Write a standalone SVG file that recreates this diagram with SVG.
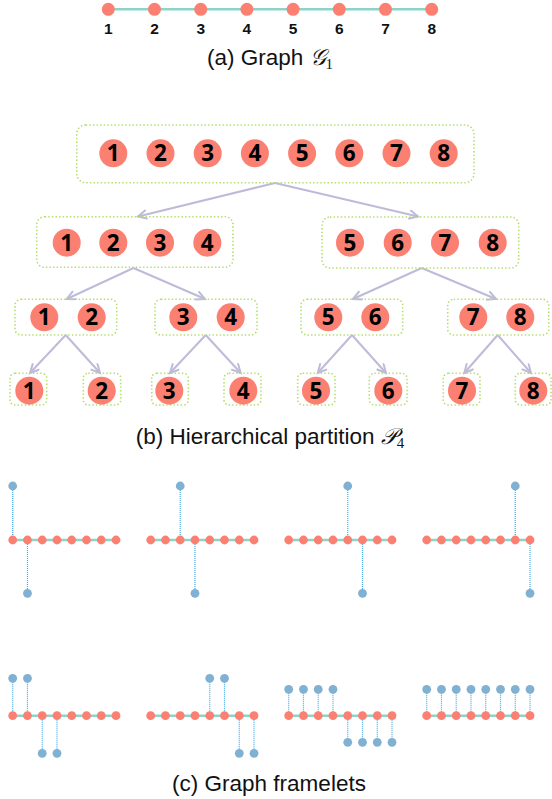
<svg xmlns="http://www.w3.org/2000/svg" width="552" height="799" viewBox="0 0 552 799">
  <style>
    .edge { stroke: #8dd3c7; stroke-width: 2.5; fill: none; }
    .v { fill: #fb8072; }
    .w { fill: #80b1d3; }
    .lbl { font-family: "Liberation Sans", Arial, sans-serif; font-weight: bold; font-size: 15.5px; fill: #111; text-anchor: middle; }
    .num { font-family: "Open Sans", "Noto Sans", sans-serif; font-weight: bold; font-size: 22.5px; fill: #000; text-anchor: middle; }
    .box { fill: none; stroke: #b3de69; stroke-width: 1.6; stroke-dasharray: 1.4 2.2; }
    .arr { stroke: #bebada; stroke-width: 2; fill: none; }
    .cap { font-family: "Liberation Sans", Arial, sans-serif; font-size: 22.5px; fill: #111; text-anchor: middle; }
    .sub { font-family: "Liberation Serif", "Times New Roman", serif; font-size: 15px; }
    .link { stroke: #4aa8e0; stroke-width: 1.2; stroke-dasharray: 1 1; fill: none; }
  </style>
  <defs>
    <marker id="head" markerUnits="userSpaceOnUse" markerWidth="14" markerHeight="14" refX="10" refY="5" orient="auto">
      <path d="M1,0.5 L10,5 L1,9.5" fill="none" stroke="#bebada" stroke-width="2" stroke-linejoin="miter"/>
    </marker>
    <g id="chain">
      <line class="edge" x1="0" y1="0" x2="103.3" y2="0"/>
      <circle class="v" cx="0" cy="0" r="4.4"/>
      <circle class="v" cx="14.76" cy="0" r="4.4"/>
      <circle class="v" cx="29.52" cy="0" r="4.4"/>
      <circle class="v" cx="44.28" cy="0" r="4.4"/>
      <circle class="v" cx="59.04" cy="0" r="4.4"/>
      <circle class="v" cx="73.8" cy="0" r="4.4"/>
      <circle class="v" cx="88.56" cy="0" r="4.4"/>
      <circle class="v" cx="103.32" cy="0" r="4.4"/>
    </g>
  </defs>

  <!-- (a) path graph on 8 vertices -->
  <g id="graph-a">
    <line class="edge" x1="108.3" y1="9.3" x2="431.7" y2="9.3"/>
    <circle class="v" cx="108.3" cy="9.3" r="6.5"/>
    <circle class="v" cx="154.5" cy="9.3" r="6.5"/>
    <circle class="v" cx="200.7" cy="9.3" r="6.5"/>
    <circle class="v" cx="246.9" cy="9.3" r="6.5"/>
    <circle class="v" cx="293.1" cy="9.3" r="6.5"/>
    <circle class="v" cx="339.3" cy="9.3" r="6.5"/>
    <circle class="v" cx="385.5" cy="9.3" r="6.5"/>
    <circle class="v" cx="431.7" cy="9.3" r="6.5"/>
    <text class="lbl" x="108.3" y="33.5">1</text>
    <text class="lbl" x="154.5" y="33.5">2</text>
    <text class="lbl" x="200.7" y="33.5">3</text>
    <text class="lbl" x="246.9" y="33.5">4</text>
    <text class="lbl" x="293.1" y="33.5">5</text>
    <text class="lbl" x="339.3" y="33.5">6</text>
    <text class="lbl" x="385.5" y="33.5">7</text>
    <text class="lbl" x="431.7" y="33.5">8</text>
  </g>
  <text class="cap" x="270" y="65">(a) Graph <tspan font-family="DejaVu Serif, serif" font-style="italic">𝒢</tspan><tspan class="sub" dy="4">1</tspan></text>

  <!-- (b) hierarchical partition tree -->
  <g id="connectors">
    <line class="arr" x1="275" y1="183" x2="138" y2="216.5" marker-end="url(#head)"/>
    <line class="arr" x1="275" y1="183" x2="418" y2="216.5" marker-end="url(#head)"/>
    <line class="arr" x1="133.5" y1="268" x2="66.7" y2="299" marker-end="url(#head)"/>
    <line class="arr" x1="133.5" y1="268" x2="205" y2="299" marker-end="url(#head)"/>
    <line class="arr" x1="421.7" y1="268" x2="353" y2="299" marker-end="url(#head)"/>
    <line class="arr" x1="421.7" y1="268" x2="496" y2="299" marker-end="url(#head)"/>
    <line class="arr" x1="65.7" y1="335" x2="30" y2="373" marker-end="url(#head)"/>
    <line class="arr" x1="65.7" y1="335" x2="100" y2="373" marker-end="url(#head)"/>
    <line class="arr" x1="205.7" y1="335" x2="170" y2="373" marker-end="url(#head)"/>
    <line class="arr" x1="205.7" y1="335" x2="240.7" y2="373" marker-end="url(#head)"/>
    <line class="arr" x1="352" y1="335" x2="317.7" y2="373" marker-end="url(#head)"/>
    <line class="arr" x1="352" y1="335" x2="386" y2="373" marker-end="url(#head)"/>
    <line class="arr" x1="497.7" y1="335" x2="464.3" y2="373" marker-end="url(#head)"/>
    <line class="arr" x1="497.7" y1="335" x2="531" y2="373" marker-end="url(#head)"/>
  </g>

  <g id="part-1-8">
    <rect class="box" x="76.7" y="125" width="397.3" height="57.7" rx="9"/>
    <circle class="v" cx="113.3" cy="153.3" r="14"/>
    <circle class="v" cx="160.5" cy="153.3" r="14"/>
    <circle class="v" cx="207.7" cy="153.3" r="14"/>
    <circle class="v" cx="254.9" cy="153.3" r="14"/>
    <circle class="v" cx="302.1" cy="153.3" r="14"/>
    <circle class="v" cx="349.3" cy="153.3" r="14"/>
    <circle class="v" cx="396.5" cy="153.3" r="14"/>
    <circle class="v" cx="443.7" cy="153.3" r="14"/>
    <text class="num" x="113.3" y="161.3">1</text>
    <text class="num" x="160.5" y="161.3">2</text>
    <text class="num" x="207.7" y="161.3">3</text>
    <text class="num" x="254.9" y="161.3">4</text>
    <text class="num" x="302.1" y="161.3">5</text>
    <text class="num" x="349.3" y="161.3">6</text>
    <text class="num" x="396.5" y="161.3">7</text>
    <text class="num" x="443.7" y="161.3">8</text>
  </g>

  <g id="part-1-4">
    <rect class="box" x="36.7" y="216.7" width="196.3" height="50.6" rx="8"/>
    <circle class="v" cx="66.7" cy="242.7" r="14"/>
    <circle class="v" cx="113.3" cy="242.7" r="14"/>
    <circle class="v" cx="160" cy="242.7" r="14"/>
    <circle class="v" cx="207.3" cy="242.7" r="14"/>
    <text class="num" x="66.7" y="250.7">1</text>
    <text class="num" x="113.3" y="250.7">2</text>
    <text class="num" x="160" y="250.7">3</text>
    <text class="num" x="207.3" y="250.7">4</text>
  </g>

  <g id="part-5-8">
    <rect class="box" x="322" y="217" width="196.7" height="51" rx="8"/>
    <circle class="v" cx="350" cy="242.7" r="14"/>
    <circle class="v" cx="397.7" cy="242.7" r="14"/>
    <circle class="v" cx="445" cy="242.7" r="14"/>
    <circle class="v" cx="492.7" cy="242.7" r="14"/>
    <text class="num" x="350" y="250.7">5</text>
    <text class="num" x="397.7" y="250.7">6</text>
    <text class="num" x="445" y="250.7">7</text>
    <text class="num" x="492.7" y="250.7">8</text>
  </g>

  <g id="part-1-2">
    <rect class="box" x="15" y="299.3" width="101.7" height="35.7" rx="6"/>
    <circle class="v" cx="44.3" cy="317.3" r="14"/>
    <circle class="v" cx="91.7" cy="317.3" r="14"/>
    <text class="num" x="44.3" y="325.3">1</text>
    <text class="num" x="91.7" y="325.3">2</text>
  </g>
  <g id="part-3-4">
    <rect class="box" x="155" y="299.3" width="102" height="35.7" rx="6"/>
    <circle class="v" cx="183.3" cy="317.3" r="14"/>
    <circle class="v" cx="230.7" cy="317.3" r="14"/>
    <text class="num" x="183.3" y="325.3">3</text>
    <text class="num" x="230.7" y="325.3">4</text>
  </g>
  <g id="part-5-6">
    <rect class="box" x="301" y="299.3" width="101.7" height="35.7" rx="6"/>
    <circle class="v" cx="328.3" cy="317.3" r="14"/>
    <circle class="v" cx="375.3" cy="317.3" r="14"/>
    <text class="num" x="328.3" y="325.3">5</text>
    <text class="num" x="375.3" y="325.3">6</text>
  </g>
  <g id="part-7-8">
    <rect class="box" x="447.7" y="299.3" width="101" height="35.7" rx="6"/>
    <circle class="v" cx="473.3" cy="317.3" r="14"/>
    <circle class="v" cx="520.3" cy="317.3" r="14"/>
    <text class="num" x="473.3" y="325.3">7</text>
    <text class="num" x="520.3" y="325.3">8</text>
  </g>

  <g id="leaf-1"><rect class="box" x="10" y="373.3" width="36.7" height="31.7" rx="5"/><circle class="v" cx="29.3" cy="390.7" r="14"/><text class="num" x="29.3" y="398.7">1</text></g>
  <g id="leaf-2"><rect class="box" x="83.3" y="373.3" width="37.4" height="31.7" rx="5"/><circle class="v" cx="101.7" cy="390.7" r="14"/><text class="num" x="101.7" y="398.7">2</text></g>
  <g id="leaf-3"><rect class="box" x="151.7" y="373.3" width="36.6" height="31.7" rx="5"/><circle class="v" cx="169.3" cy="390.7" r="14"/><text class="num" x="169.3" y="398.7">3</text></g>
  <g id="leaf-4"><rect class="box" x="224" y="373.3" width="37" height="31.7" rx="5"/><circle class="v" cx="243.3" cy="390.7" r="14"/><text class="num" x="243.3" y="398.7">4</text></g>
  <g id="leaf-5"><rect class="box" x="297.7" y="373.3" width="37.3" height="31.7" rx="5"/><circle class="v" cx="316" cy="390.7" r="14"/><text class="num" x="316" y="398.7">5</text></g>
  <g id="leaf-6"><rect class="box" x="369.3" y="373.3" width="37.7" height="31.7" rx="5"/><circle class="v" cx="388.3" cy="390.7" r="14"/><text class="num" x="388.3" y="398.7">6</text></g>
  <g id="leaf-7"><rect class="box" x="443.3" y="373.3" width="36.7" height="31.7" rx="5"/><circle class="v" cx="462" cy="390.7" r="14"/><text class="num" x="462" y="398.7">7</text></g>
  <g id="leaf-8"><rect class="box" x="515.3" y="373.3" width="35.7" height="31.7" rx="5"/><circle class="v" cx="533.3" cy="390.7" r="14"/><text class="num" x="533.3" y="398.7">8</text></g>

  <text class="cap" x="270" y="444">(b) Hierarchical partition <tspan font-family="DejaVu Serif, serif" font-style="italic">𝒫</tspan><tspan class="sub" dy="4">4</tspan></text>

  <!-- (c) framelets: chain plus attached framelet vertices -->
  <g id="framelet-1" transform="translate(12.7,540)">
    <line class="link" x1="0" y1="-54" x2="0" y2="0"/>
    <line class="link" x1="14.76" y1="0" x2="14.76" y2="53.3"/>
    <use href="#chain"/>
    <circle class="w" cx="0" cy="-54" r="4.4"/>
    <circle class="w" cx="14.76" cy="53.3" r="4.4"/>
  </g>
  <g id="framelet-2" transform="translate(150.7,540)">
    <line class="link" x1="29.52" y1="-54" x2="29.52" y2="0"/>
    <line class="link" x1="44.28" y1="0" x2="44.28" y2="53.3"/>
    <use href="#chain"/>
    <circle class="w" cx="29.52" cy="-54" r="4.4"/>
    <circle class="w" cx="44.28" cy="53.3" r="4.4"/>
  </g>
  <g id="framelet-3" transform="translate(288.7,540)">
    <line class="link" x1="59.04" y1="-54" x2="59.04" y2="0"/>
    <line class="link" x1="73.8" y1="0" x2="73.8" y2="53.3"/>
    <use href="#chain"/>
    <circle class="w" cx="59.04" cy="-54" r="4.4"/>
    <circle class="w" cx="73.8" cy="53.3" r="4.4"/>
  </g>
  <g id="framelet-4" transform="translate(426.7,540)">
    <line class="link" x1="88.56" y1="-54" x2="88.56" y2="0"/>
    <line class="link" x1="103.32" y1="0" x2="103.32" y2="53.3"/>
    <use href="#chain"/>
    <circle class="w" cx="88.56" cy="-54" r="4.4"/>
    <circle class="w" cx="103.32" cy="53.3" r="4.4"/>
  </g>

  <g id="framelet-5" transform="translate(12.7,715.7)">
    <line class="link" x1="0" y1="-37.4" x2="0" y2="0"/>
    <line class="link" x1="14.76" y1="-37.4" x2="14.76" y2="0"/>
    <line class="link" x1="29.52" y1="0" x2="29.52" y2="37.6"/>
    <line class="link" x1="44.28" y1="0" x2="44.28" y2="37.6"/>
    <use href="#chain"/>
    <circle class="w" cx="0" cy="-37.4" r="4.4"/>
    <circle class="w" cx="14.76" cy="-37.4" r="4.4"/>
    <circle class="w" cx="29.52" cy="37.6" r="4.4"/>
    <circle class="w" cx="44.28" cy="37.6" r="4.4"/>
  </g>
  <g id="framelet-6" transform="translate(150.7,715.7)">
    <line class="link" x1="59.04" y1="-37.4" x2="59.04" y2="0"/>
    <line class="link" x1="73.8" y1="-37.4" x2="73.8" y2="0"/>
    <line class="link" x1="88.56" y1="0" x2="88.56" y2="37.6"/>
    <line class="link" x1="103.32" y1="0" x2="103.32" y2="37.6"/>
    <use href="#chain"/>
    <circle class="w" cx="59.04" cy="-37.4" r="4.4"/>
    <circle class="w" cx="73.8" cy="-37.4" r="4.4"/>
    <circle class="w" cx="88.56" cy="37.6" r="4.4"/>
    <circle class="w" cx="103.32" cy="37.6" r="4.4"/>
  </g>
  <g id="framelet-7" transform="translate(288.7,715.7)">
    <line class="link" x1="0" y1="-26.4" x2="0" y2="0"/>
    <line class="link" x1="14.76" y1="-26.4" x2="14.76" y2="0"/>
    <line class="link" x1="29.52" y1="-26.4" x2="29.52" y2="0"/>
    <line class="link" x1="44.28" y1="-26.4" x2="44.28" y2="0"/>
    <line class="link" x1="59.04" y1="0" x2="59.04" y2="26.6"/>
    <line class="link" x1="73.8" y1="0" x2="73.8" y2="26.6"/>
    <line class="link" x1="88.56" y1="0" x2="88.56" y2="26.6"/>
    <line class="link" x1="103.32" y1="0" x2="103.32" y2="26.6"/>
    <use href="#chain"/>
    <circle class="w" cx="0" cy="-26.4" r="4.4"/>
    <circle class="w" cx="14.76" cy="-26.4" r="4.4"/>
    <circle class="w" cx="29.52" cy="-26.4" r="4.4"/>
    <circle class="w" cx="44.28" cy="-26.4" r="4.4"/>
    <circle class="w" cx="59.04" cy="26.6" r="4.4"/>
    <circle class="w" cx="73.8" cy="26.6" r="4.4"/>
    <circle class="w" cx="88.56" cy="26.6" r="4.4"/>
    <circle class="w" cx="103.32" cy="26.6" r="4.4"/>
  </g>
  <g id="framelet-8" transform="translate(426.7,715.7)">
    <line class="link" x1="0" y1="-26.4" x2="0" y2="0"/>
    <line class="link" x1="14.76" y1="-26.4" x2="14.76" y2="0"/>
    <line class="link" x1="29.52" y1="-26.4" x2="29.52" y2="0"/>
    <line class="link" x1="44.28" y1="-26.4" x2="44.28" y2="0"/>
    <line class="link" x1="59.04" y1="-26.4" x2="59.04" y2="0"/>
    <line class="link" x1="73.8" y1="-26.4" x2="73.8" y2="0"/>
    <line class="link" x1="88.56" y1="-26.4" x2="88.56" y2="0"/>
    <line class="link" x1="103.32" y1="-26.4" x2="103.32" y2="0"/>
    <use href="#chain"/>
    <circle class="w" cx="0" cy="-26.4" r="4.4"/>
    <circle class="w" cx="14.76" cy="-26.4" r="4.4"/>
    <circle class="w" cx="29.52" cy="-26.4" r="4.4"/>
    <circle class="w" cx="44.28" cy="-26.4" r="4.4"/>
    <circle class="w" cx="59.04" cy="-26.4" r="4.4"/>
    <circle class="w" cx="73.8" cy="-26.4" r="4.4"/>
    <circle class="w" cx="88.56" cy="-26.4" r="4.4"/>
    <circle class="w" cx="103.32" cy="-26.4" r="4.4"/>
  </g>

  <text class="cap" x="269" y="790.7">(c) Graph framelets</text>
</svg>
